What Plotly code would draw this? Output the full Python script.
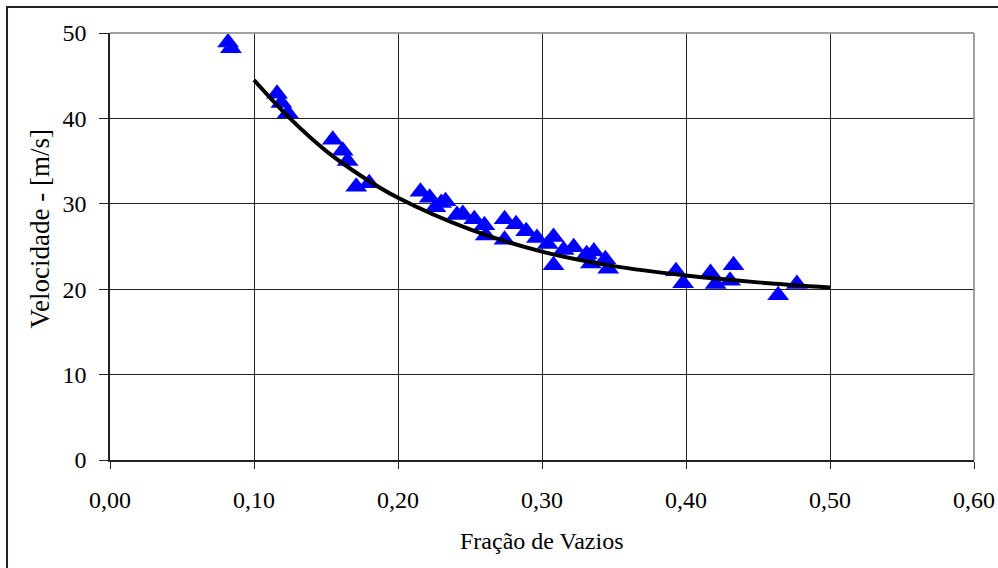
import plotly.graph_objects as go

# Measured points
frac_vazios = [0.082, 0.084, 0.116, 0.119, 0.1235, 0.1547, 0.1616, 0.165, 0.171, 0.180,
               0.2156, 0.222, 0.226, 0.230, 0.233, 0.241, 0.245, 0.253, 0.260, 0.261,
               0.274, 0.274, 0.282, 0.289, 0.2965, 0.304, 0.308, 0.308, 0.315, 0.322,
               0.331, 0.336, 0.334, 0.344, 0.346, 0.393, 0.398, 0.417, 0.4206, 0.433,
               0.4306, 0.464, 0.477]
velocidade = [48.9, 48.2, 42.9, 41.8, 40.6, 37.5, 36.2, 35.0, 32.0, 32.4,
              31.4, 30.7, 29.6, 30.1, 30.3, 28.7, 28.8, 28.2, 27.5, 26.3,
              28.2, 25.8, 27.6, 26.8, 26.0, 25.3, 26.1, 22.8, 24.6, 24.9,
              24.1, 24.4, 23.0, 23.5, 22.4, 22.1, 20.7, 21.9, 20.6, 22.8,
              21.0, 19.3, 20.6]

# Trend curve
curva_x = [0.10, 0.125, 0.15, 0.175, 0.20, 0.25, 0.30, 0.35, 0.40, 0.45, 0.50]
curva_y = [44.5, 40.0, 36.2, 33.2, 30.7, 27.0, 24.4, 22.7, 21.6, 20.8, 20.2]

x_ticks = [0.0, 0.1, 0.2, 0.3, 0.4, 0.5, 0.6]
y_ticks = [0, 10, 20, 30, 40, 50]

FONT = "Liberation Serif"
FS = 24

fig = go.Figure()
fig.add_trace(go.Scatter(
    x=frac_vazios, y=velocidade, mode="markers",
    marker=dict(symbol="triangle-up", size=19, color="#0000FF", line=dict(width=0)),
    showlegend=False, cliponaxis=False))
fig.add_trace(go.Scatter(
    x=curva_x, y=curva_y, mode="lines",
    line=dict(color="black", width=4, shape="spline", smoothing=1.0),
    showlegend=False))

fig.update_layout(
    width=998, height=568,
    margin=dict(l=110, r=24, t=33, b=108),
    paper_bgcolor="white", plot_bgcolor="white",
    separators=",.",
    font=dict(family=FONT, color="black", size=FS),
    xaxis=dict(range=[0, 0.6], tickvals=x_ticks, tickformat=".2f",
               showgrid=True, gridcolor="#222", gridwidth=1,
               showline=True, linecolor="#222", linewidth=1.5,
               ticks="outside", ticklen=7, tickcolor="#222",
               zeroline=False, ticklabelstandoff=10, automargin=False,
               tickfont=dict(family=FONT, size=FS)),
    yaxis=dict(range=[0, 50], tickvals=y_ticks,
               showgrid=True, gridcolor="#222", gridwidth=1,
               showline=True, linecolor="#222", linewidth=1.5,
               ticks="outside", ticklen=9, tickcolor="#222",
               zeroline=False, ticklabelstandoff=8, automargin=False,
               tickfont=dict(family=FONT, size=FS)),
    annotations=[
        dict(text="Velocidade - [m/s]", xref="paper", yref="paper",
             x=-0.081, y=0.54, textangle=-90, showarrow=False,
             font=dict(family=FONT, size=27), xanchor="center", yanchor="middle"),
        dict(text="Fração de Vazios", xref="paper", yref="paper",
             x=0.5, y=-0.19, showarrow=False,
             font=dict(family=FONT, size=FS), xanchor="center", yanchor="middle"),
    ],
    shapes=[
        dict(type="line", xref="paper", yref="paper", x0=0, x1=1, y0=1, y1=1,
             line=dict(color="#a0a0a0", width=2), layer="above"),
        dict(type="line", xref="paper", yref="paper", x0=1, x1=1, y0=0, y1=1,
             line=dict(color="#a0a0a0", width=2), layer="above"),
        dict(type="rect", xref="paper", yref="paper",
             x0=-0.1192, x1=1.05, y0=-0.3, y1=1.0609,
             line=dict(color="#222", width=2), layer="below"),
    ],
)

fig.write_html("out.html")
